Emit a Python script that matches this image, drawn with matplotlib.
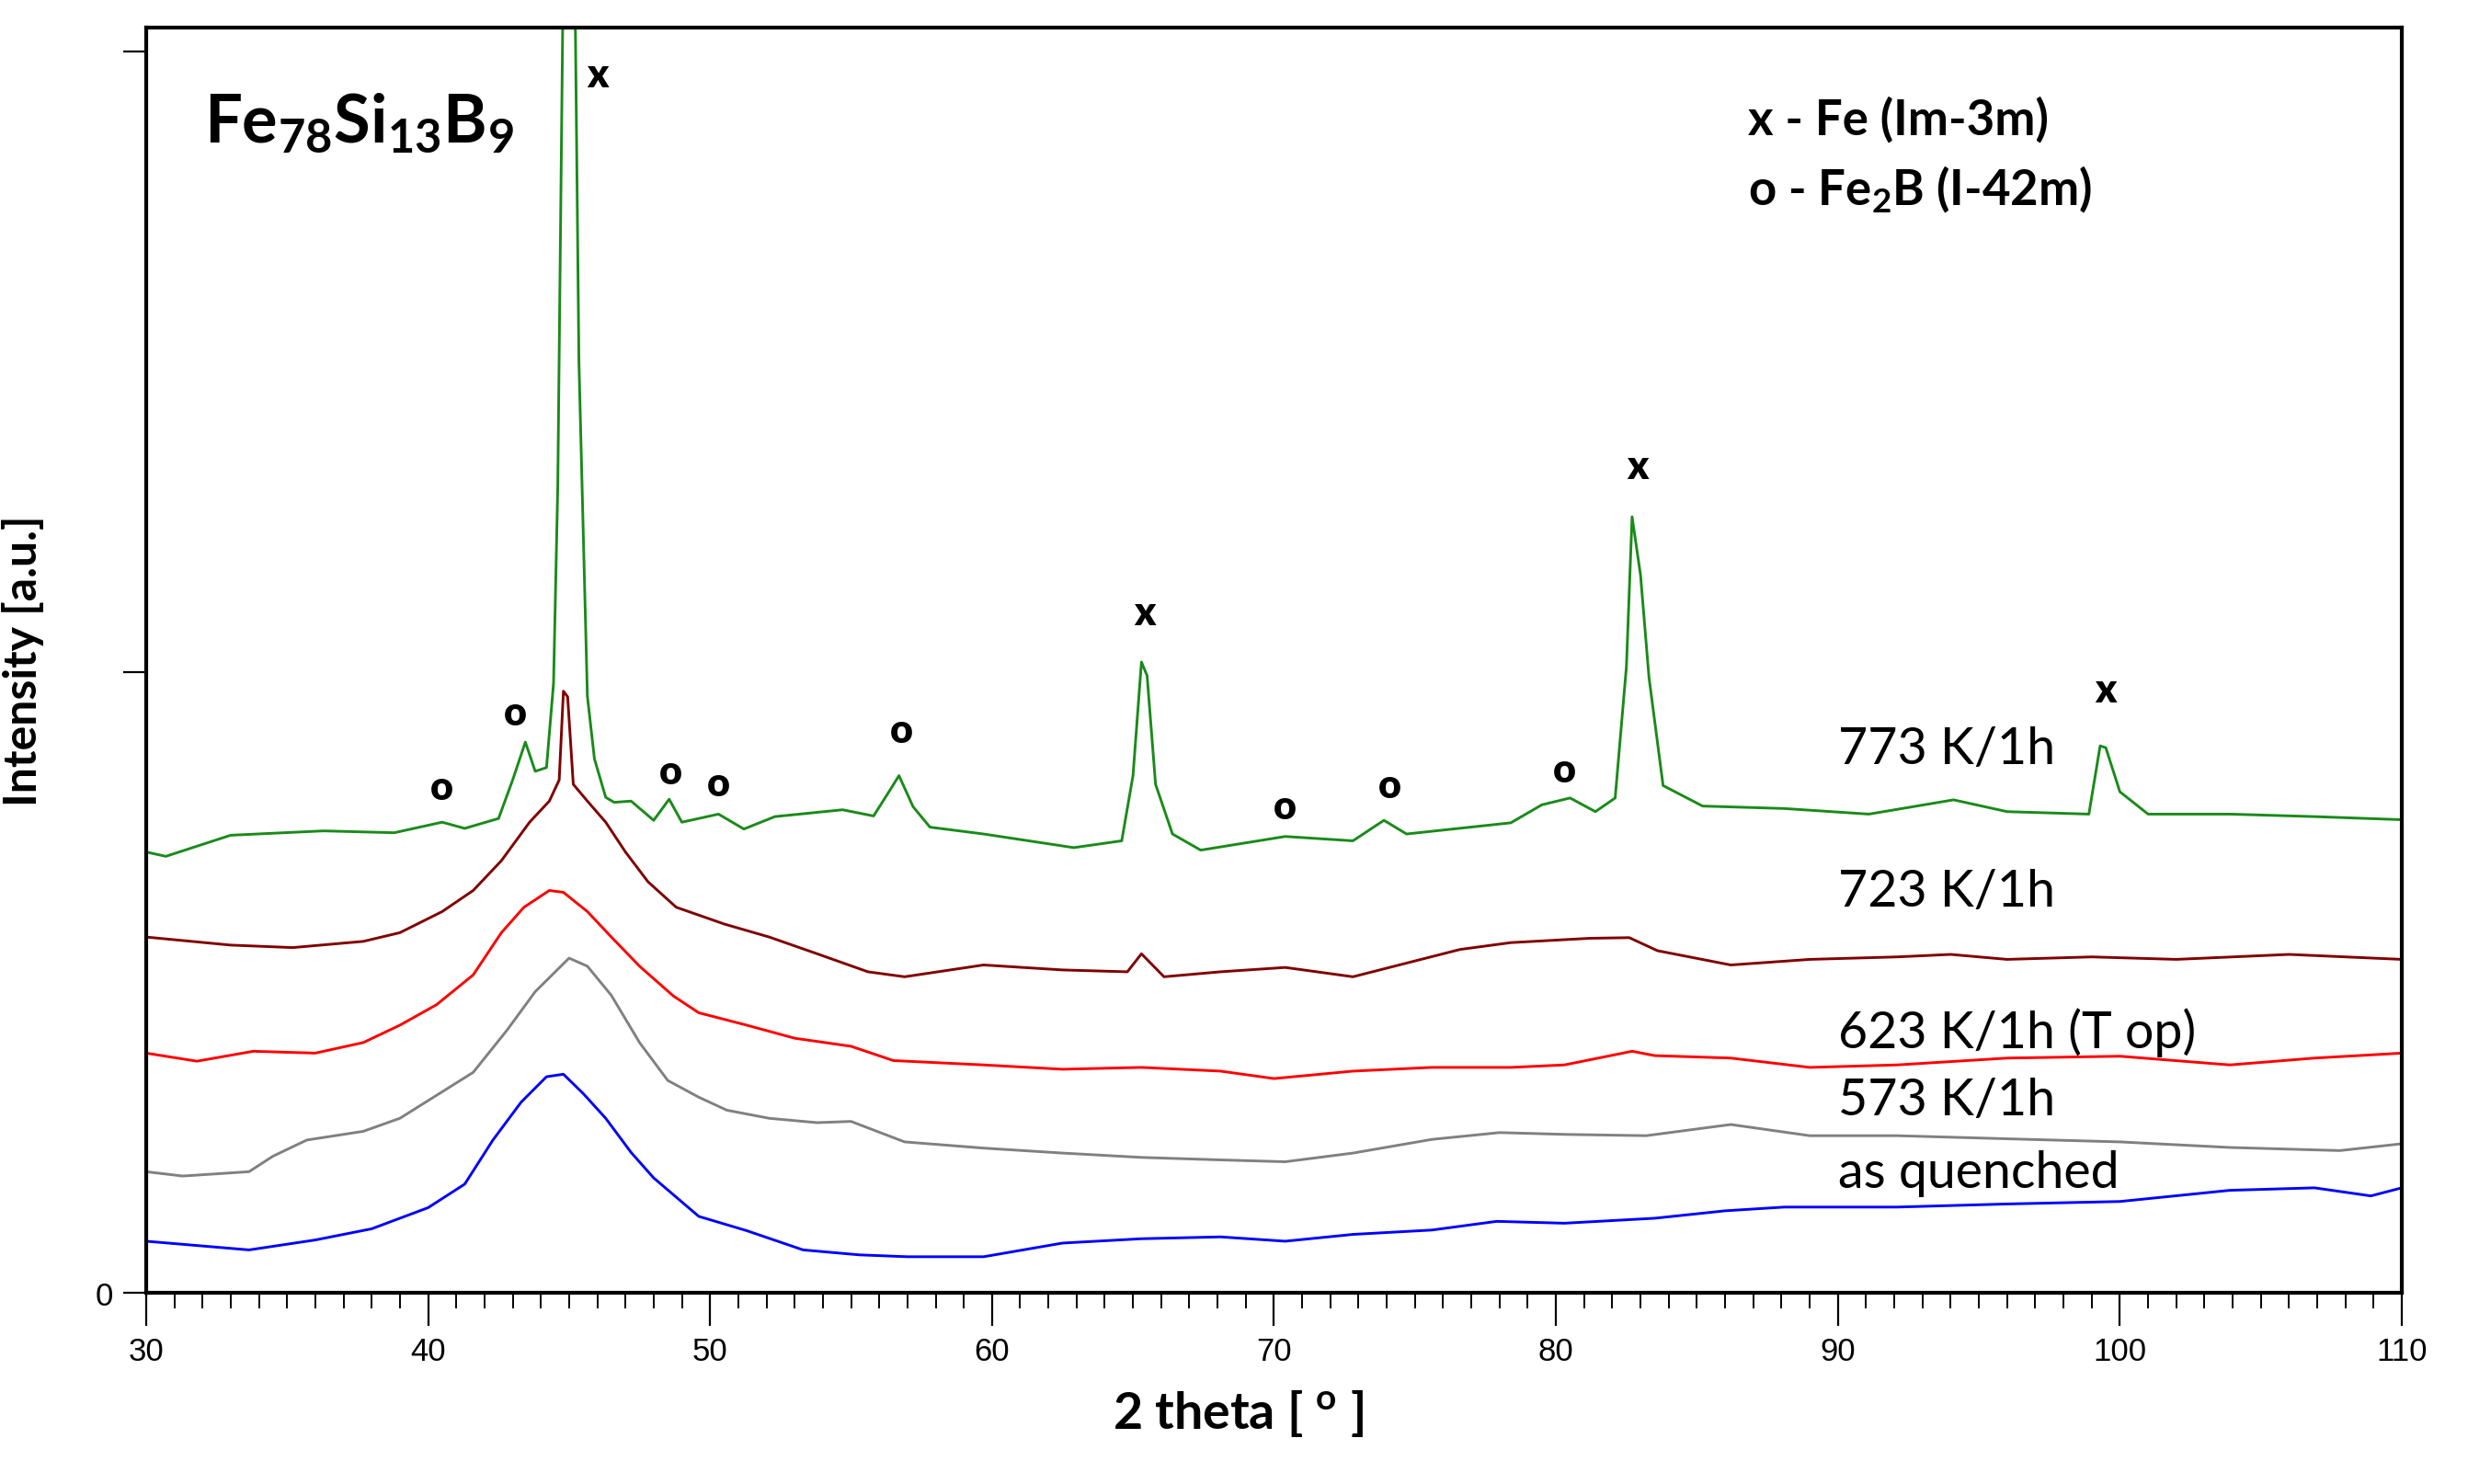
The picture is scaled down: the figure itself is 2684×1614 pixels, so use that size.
import matplotlib
matplotlib.use("Agg")
import matplotlib.pyplot as plt
from matplotlib.ticker import MultipleLocator

plt.rcParams['font.family'] = ['Lato', 'DejaVu Sans']
plt.rcParams['mathtext.fontset'] = 'custom'
plt.rcParams['mathtext.rm'] = 'Lato'
plt.rcParams['mathtext.bf'] = 'Lato:bold'
plt.rcParams['mathtext.it'] = 'Lato:italic'

# XRD patterns (2 theta in degrees, intensity in a.u.)
q_x = [30, 33.65, 36, 38, 40, 41.3, 42.3, 43.3, 44.2, 44.8, 45.5, 46.3, 47.2, 48, 49.6,
       51.3, 53.3, 55.3, 57, 59.7, 62.5, 65.3, 68.1, 70.4, 72.8, 75.6, 77.9, 80.3, 83.5,
       86, 88.1, 92.1, 96, 100, 103.9, 106.9, 108.9, 110]
q_y = [83, 69, 85, 103, 137, 175, 246, 307, 348, 352, 321, 281, 226, 185, 123,
       100, 69, 61, 58, 58, 80, 87, 90, 83, 94, 101, 115, 112, 120,
       132, 138, 138, 143, 147, 165, 169, 156, 169]

t573_x = [30, 31.3, 33.65, 34.5, 35.7, 37.7, 39.0, 40.3, 41.6, 42.8, 43.8, 45.0, 45.65, 46.5,
          47.5, 48.5, 49.6, 50.6, 52.1, 53.8, 55.0, 56.9, 59.7, 62.5, 65.3, 68.1, 70.4,
          72.8, 75.6, 78.0, 80.4, 83.2, 86.2, 89.0, 92.1, 96.0, 100, 103.9, 107.8, 110]
t573_y = [195, 188, 195, 220, 246, 260, 281, 318, 355, 423, 485, 539, 526, 479,
          403, 342, 315, 294, 281, 274, 276, 243, 233, 225, 218, 214, 211,
          225, 247, 258, 255, 253, 271, 253, 253, 248, 243, 234, 229, 240]

t623_x = [30, 31.8, 33.8, 36.0, 37.7, 39.0, 40.3, 41.6, 42.6, 43.4, 44.3, 44.8, 45.65, 46.5,
          47.5, 48.7, 49.6, 51.3, 53.0, 55.0, 56.5, 59.7, 62.5, 65.3, 68.1, 70.0, 72.8,
          75.6, 78.4, 80.3, 82.7, 83.5, 86.2, 89.0, 92.1, 96.0, 100, 103.9, 106.9, 110]
t623_y = [386, 373, 389, 386, 403, 431, 464, 512, 580, 621, 648, 645, 614, 573,
          526, 478, 451, 431, 410, 397, 374, 367, 360, 363, 357, 345, 357,
          363, 363, 367, 389, 382, 378, 363, 367, 378, 381, 367, 378, 386]

t723_x = [30, 33.0, 35.2, 37.7, 39.0, 40.5, 41.6, 42.6, 43.6, 44.3, 44.65, 44.8, 44.95, 45.15,
          45.65, 46.3, 47.0, 47.8, 48.8, 50.5, 52.1, 53.8, 55.6, 56.9, 59.7, 62.5, 64.8,
          65.3, 66.1, 68.1, 70.4, 72.8, 74.7, 76.6, 78.4, 81.2, 82.6, 83.6, 86.2, 89.0,
          92.1, 94.0, 96.0, 99.0, 102.0, 106.0, 110]
t723_y = [573, 560, 556, 566, 580, 614, 648, 696, 758, 792, 826, 969, 960, 819,
          792, 758, 710, 662, 621, 594, 573, 546, 517, 509, 528, 520, 517,
          546, 509, 517, 524, 509, 531, 553, 564, 571, 572, 551, 528, 537,
          541, 545, 537, 541, 537, 545, 537]

t773_x = [30, 30.7, 33.0, 36.3, 38.8, 40.5, 41.3, 42.5, 43.0, 43.45, 43.8, 44.2, 44.45, 44.6,
          45.0, 45.35, 45.65, 45.9, 46.3, 46.6, 47.2, 48.0, 48.55, 49.0, 50.3, 51.2, 52.3,
          54.7, 55.8, 56.4, 56.7, 57.2, 57.8, 59.7, 62.9, 64.6, 65.0, 65.3, 65.5, 65.8,
          66.4, 67.4, 70.4, 72.8, 73.9, 74.7, 78.4, 79.5, 80.5, 81.4, 82.1, 82.5, 82.7,
          83.0, 83.3, 83.8, 85.2, 88.1, 91.1, 94.1, 96.0, 98.9, 99.3, 99.5, 100.0, 101.0,
          103.9, 106.9, 110]
t773_y = [710, 703, 737, 744, 741, 758, 748, 764, 826, 887, 840, 846, 982, 1300,
          3000, 1500, 961, 860, 798, 790, 792, 761, 795, 758, 771, 747, 767,
          778, 768, 811, 833, 783, 750, 739, 717, 728, 833, 1016, 994, 819,
          739, 713, 735, 728, 761, 739, 757, 786, 797, 775, 797, 1009, 1250,
          1156, 991, 817, 784, 780, 771, 794, 775, 771, 881, 878, 807, 771,
          771, 767, 762]

series = [
    (q_x, q_y, "#0000ff"),
    (t573_x, t573_y, "#808080"),
    (t623_x, t623_y, "#ff0000"),
    (t723_x, t723_y, "#800000"),
    (t773_x, t773_y, "#1a8a1a"),
]

sample_labels = ["773 K/1h", "723 K/1h", "623 K/1h (T op)", "573 K/1h", "as quenched"]
sample_label_y = [876, 647, 421, 310, 193]

# phase markers: (2theta, height, symbol)
marker_x = [46.0, 65.4, 82.9, 99.5, 40.5, 43.1, 48.6, 50.3, 56.8, 70.4, 74.1, 80.3]
marker_y = [1962, 1096, 1332, 972, 815, 934, 840, 820, 906, 784, 817, 843]
marker_s = ["x", "x", "x", "x", "o", "o", "o", "o", "o", "o", "o", "o"]

fig = plt.figure(figsize=(26.84, 16.15), dpi=100)
ax = fig.add_axes([0.0592, 0.1288, 0.9140, 0.852])

for xs, ys, c in series:
    ax.plot(xs, ys, "-", color=c, lw=2.1)

ax.set_xlim(30, 110)
ax.set_ylim(0, 2038)

for s in ax.spines.values():
    s.set_linewidth(3)

ax.xaxis.set_major_locator(MultipleLocator(10))
ax.xaxis.set_minor_locator(MultipleLocator(1))
ax.set_yticks([0, 1000, 2000])
ax.set_yticklabels(["0", "", ""])
ax.tick_params(axis="x", which="major", direction="out", length=26, width=1.6, pad=8)
ax.tick_params(axis="x", which="minor", direction="out", length=12, width=1.4)
ax.tick_params(axis="y", which="major", direction="out", length=18, width=1.6, pad=8)
tick_font = ['Liberation Sans Narrow', 'Liberation Sans']
for lab in ax.get_xticklabels() + ax.get_yticklabels():
    lab.set_family(tick_font)
    lab.set_fontsize(25)

ax.set_xlabel(r"2 theta [ $^{\mathbf{o}}$ ]", fontsize=40, fontweight="bold", labelpad=10)
ax.xaxis.set_label_coords(0.484, -0.075)
ax.set_ylabel("Intensity [a.u.]", fontsize=36, fontweight="bold")
ax.yaxis.set_label_coords(-0.045, 0.5)

ax.text(32.05, 1886, r"$\mathbf{Fe_{78}Si_{13}B_{9}}$", fontsize=52, va="center", ha="left")
ax.text(86.8, 1891, "x - Fe (Im-3m)", fontsize=38, fontweight="bold", va="center", ha="left")
ax.text(86.8, 1779, r"o - Fe$_{\mathbf{2}}$B (I-42m)", fontsize=38, fontweight="bold",
        va="center", ha="left")

for lab, yv in zip(sample_labels, sample_label_y):
    ax.text(90.0, yv, lab, fontsize=40, va="center", ha="left")

for mx, my, ms in zip(marker_x, marker_y, marker_s):
    ax.text(mx, my, ms, fontsize=31, fontweight="heavy", ha="center", va="center")

fig.savefig("out.png", dpi=100)
